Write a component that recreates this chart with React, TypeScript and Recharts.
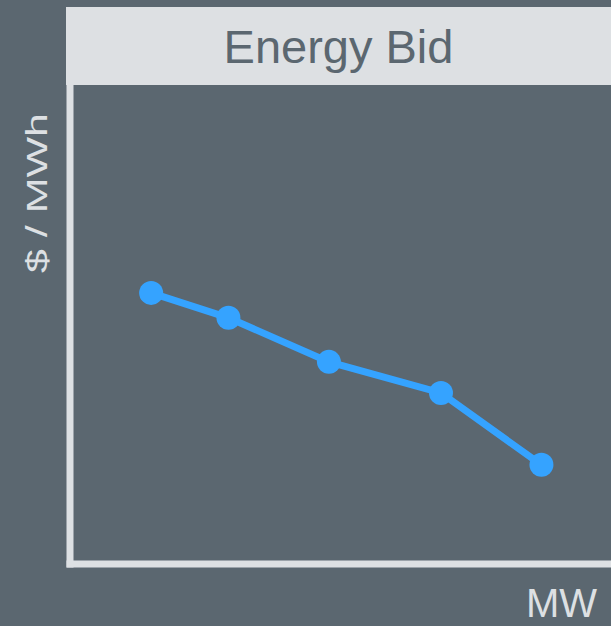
import { LineChart, Line, XAxis, YAxis, Label } from 'recharts';

// MW offered vs. bid price ($/MWh)
const megawatts = [21, 41, 67, 96, 122];
const prices = [56.6, 51.4, 42.2, 35.7, 20.7];

const chartData = megawatts.map((mw, i) => ({ mw, price: prices[i] }));

const bg = '#5b6770';
const light = '#dde0e3';
const blue = '#35a3ff';
const font = '"Liberation Sans", Arial, sans-serif';

export default function App() {
  return (
    <div style={{ position: 'fixed', inset: 0, background: bg, overflow: 'hidden' }}>
      <LineChart
        width={611}
        height={626}
        data={chartData}
        margin={{ top: 85, right: 0, bottom: 0, left: 0 }}
      >
        <XAxis
          type="number"
          dataKey="mw"
          domain={[0, 140]}
          tick={false}
          tickLine={false}
          height={62}
          axisLine={{ stroke: light, strokeWidth: 7, strokeLinecap: 'square' } as any}
        >
          <Label
            content={() => (
              <text x={597} y={617} textAnchor="end" fill={light} fontSize={40} fontFamily={font}>
                MW
              </text>
            )}
          />
        </XAxis>
        <YAxis
          type="number"
          domain={[0, 100]}
          tick={false}
          tickLine={false}
          width={70}
          axisLine={{ stroke: light, strokeWidth: 7, strokeLinecap: 'square' } as any}
        >
          <Label
            content={() => (
              <text
                x={0}
                y={0}
                transform="translate(47 193) rotate(-90)"
                textAnchor="middle"
                fill={light}
                fontSize={29}
                fontFamily={font}
                textLength={160}
                lengthAdjust="spacingAndGlyphs"
              >
                $ / MWh
              </text>
            )}
          />
        </YAxis>
        <Line
          type="linear"
          dataKey="price"
          stroke={blue}
          strokeWidth={7}
          dot={{ r: 12, fill: blue, stroke: 'none' }}
          activeDot={false}
          isAnimationActive={false}
        />
      </LineChart>
      <div
        style={{
          position: 'absolute',
          left: 66,
          top: 7,
          width: 545,
          height: 78,
          background: light,
          color: bg,
          fontFamily: font,
          fontSize: 47,
          display: 'flex',
          alignItems: 'center',
          justifyContent: 'center',
        }}
      >
        Energy Bid
      </div>
    </div>
  );
}
